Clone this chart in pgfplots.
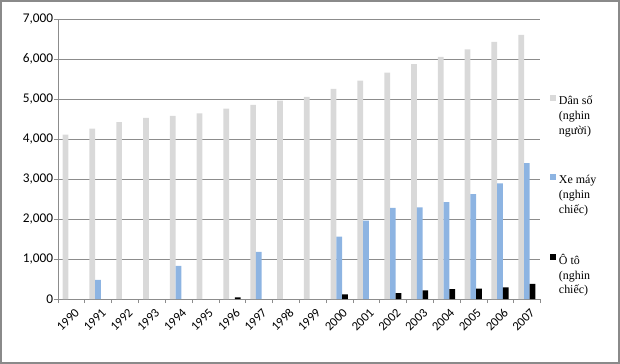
\documentclass[border=0pt]{standalone}
\usepackage{pgfplots}
\pgfplotsset{compat=1.18}
\usepackage{fontspec}
\setmainfont{Carlito}
\newfontfamily\legfont{Liberation Serif}
\definecolor{popgray}{HTML}{D9D9D9}
\definecolor{motoblue}{HTML}{8DB4E2}
\definecolor{gridgray}{HTML}{8C8C8C}
\definecolor{framegray}{HTML}{8A8A8A}
\begin{document}
\begin{tikzpicture}
\begin{axis}[
  scale only axis, width=363pt, height=210.75pt,
  xmin=-0.5, xmax=17.5, ymin=0, ymax=7000,
  ybar=0pt, bar width=4.3pt,
  clip=false,
  axis lines*=left,
  axis line style={gridgray},
  xtick={0,1,2,3,4,5,6,7,8,9,10,11,12,13,14,15,16,17},
  xticklabels={1990,1991,1992,1993,1994,1995,1996,1997,1998,1999,2000,2001,2002,2003,2004,2005,2006,2007},
  minor xtick={-0.5,0.5,...,17.5},
  ytick={0,1000,...,7000},
  minor ytick={0,1000,...,7000},
  major tick length=0pt,
  minor tick length=3pt,
  tick align=outside,
  tick style={gridgray},
  ymajorgrids, major grid style={gridgray, line width=0.5pt},
  xticklabel shift=7pt,
  x tick label style={rotate=45, anchor=north east, font=\fontsize{9.5}{11}\selectfont, inner sep=1pt, xshift=3pt},
  y tick label style={font=\fontsize{10}{12}\selectfont},
  yticklabel style={/pgf/number format/.cd, 1000 sep={,}, assume math mode=true},
  scaled y ticks=false,
  legend style={draw=none, fill=none, at={(1.012,0.745)}, anchor=north west,
    font=\legfont\fontsize{9}{11.25}\selectfont, nodes={align=left}, row sep=25pt},
  legend cell align=left,
  legend image code/.code={\fill[#1,draw=none] (0pt,11.25pt) rectangle (4.5pt,15.75pt);},
]
\addplot[fill=popgray, draw=none] coordinates {
 (0,4110) (1,4260) (2,4420) (3,4530) (4,4580) (5,4640) (6,4760) (7,4850) (8,4960)
 (9,5050) (10,5250) (11,5460) (12,5660) (13,5870) (14,6050) (15,6240) (16,6430) (17,6600)};
\addplot[fill=motoblue, draw=none] coordinates {
 (1,480) (4,830) (7,1180) (10,1560) (11,1960) (12,2280) (13,2290) (14,2420) (15,2620) (16,2890) (17,3400)};
\addplot[fill=black, draw=none] coordinates {
 (6,40) (10,117) (12,150) (13,216) (14,249) (15,258) (16,290) (17,380)};
\legend{{Dân số\\(nghin\\người)}, {Xe máy\\(nghin\\chiếc)}, {Ô tô\\(nghin\\chiếc)}}
\draw[framegray, line width=1.5pt] (rel axis cs:-0.1178,-0.2278) rectangle (rel axis cs:1.1632,1.0641);
\end{axis}
\end{tikzpicture}
\end{document}
